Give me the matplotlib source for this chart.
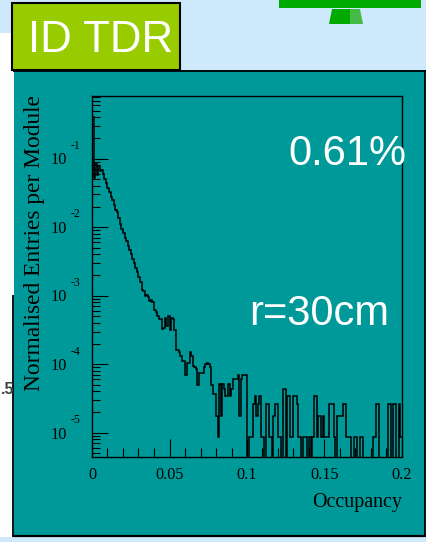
import numpy as np
import matplotlib
matplotlib.use("Agg")
import matplotlib.pyplot as plt
from matplotlib.patches import Rectangle, Polygon
from matplotlib.ticker import FixedLocator, LogLocator, NullFormatter, FixedFormatter, MultipleLocator
import matplotlib.transforms as mtransforms

W, H, DPI = 427, 542, 100

# ---------------- data ----------------
x_range = (0.0, 0.2)
n_bins = 200
# normalised entries per bin, bins 0-79 (occupancy 0 - 0.08)
head_values = [
    0.41, 0.052, 0.085, 0.058, 0.078, 0.066, 0.068, 0.060, 0.050, 0.044,
    0.037, 0.033, 0.028, 0.025, 0.021, 0.018, 0.0165, 0.0135, 0.0110, 0.0095,
    0.0082, 0.0070, 0.0062, 0.0053, 0.0047, 0.0040, 0.0034, 0.0030, 0.0025, 0.0022,
    0.0019, 0.0016, 0.00121, 0.00118, 0.00100, 0.00102, 0.00097, 0.00085, 0.00086, 0.00080,
    0.00062, 0.00058, 0.00050, 0.00045, 0.00046, 0.00033, 0.00034, 0.00048, 0.00036, 0.00050,
    0.00032, 0.00047, 0.00045, 0.00032, 0.00016, 0.00016, 0.00015, 0.00013, 0.00011, 0.00011,
    0.000070, 0.000105, 0.000105, 0.00015, 0.00013, 0.000095, 0.000090, 0.000085, 0.000050, 0.000075,
    0.000075, 0.000075, 0.000090, 0.00010, 0.000105, 0.00010, 0.000090, 0.000050, 0.000037, 0.000037,
]
# raw entries per bin, bins 80-199 (occupancy 0.08 - 0.2)
tail_entries = [
    2, 1, 6, 2, 6, 5, 4, 4, 6, 4,
    5, 7, 7, 7, 8, 2, 7, 8, 8, 8,
    0, 1, 1, 1, 3, 4, 2, 3, 4, 1,
    1, 0, 3, 3, 1, 1, 0, 2, 3, 3,
    1, 1, 0, 5, 5, 0, 4, 4, 1, 1,
    4, 4, 3, 1, 1, 0, 1, 1, 1, 0,
    1, 0, 1, 4, 4, 1, 2, 2, 1, 2,
    1, 1, 1, 3, 3, 3, 1, 0, 2, 2,
    2, 2, 3, 3, 1, 1, 1, 0, 0, 1,
    1, 0, 0, 1, 1, 0, 0, 0, 0, 0,
    0, 1, 1, 3, 3, 0, 0, 0, 0, 0,
    0, 3, 3, 0, 3, 3, 0, 0, 3, 1,
]
entry_weight = 8.65e-6  # normalisation of one entry

x_ticks = [0.0, 0.05, 0.1, 0.15, 0.2]
x_tick_labels = ["0", "0.05", "0.1", "0.15", "0.2"]
y_decades = [-1, -2, -3, -4, -5]
y_lim = (4.42e-6, 0.822)

title_text = "ID TDR"
occ_text = "0.61%"
radius_text = "r=30cm"
y_label = "Normalised Entries per Module"
x_label = "Occupancy"
edge_text = ".5"

# ---------------- colours ----------------
c_sky = "#cde9fb"
c_teal = "#009999"
c_lime = "#99cc00"
c_green = "#00aa00"

SANS = "Liberation Sans"
SERIF = "Liberation Serif"

def fx(px):
    return px / W

def fy(py):
    return 1 - py / H

fig = plt.figure(figsize=(W / DPI, H / DPI), dpi=DPI, facecolor=c_sky)

# background slide elements
bg = fig.add_axes([0, 0, 1, 1], zorder=-1)
bg.set_xlim(0, W)
bg.set_ylim(H, 0)
bg.axis("off")
bg.add_patch(Rectangle((0, 33), 14, 504, fc="white", ec="none"))
bg.add_patch(Rectangle((14, 70), 411, 466, fc=c_teal, ec="none"))
bg.plot([13, 426], [70.5, 70.5], color="black", lw=1.3, solid_capstyle="butt")
bg.plot([425.5, 425.5], [70, 537], color="black", lw=1.3, solid_capstyle="butt")
bg.plot([13, 426], [536, 536], color="black", lw=1.6, solid_capstyle="butt")
bg.plot([13.5, 13.5], [295, 537], color="black", lw=1.3, solid_capstyle="butt")
bg.add_patch(Rectangle((12.5, 2.5), 168, 67.5, fc=c_lime, ec="black", lw=1.5))
bg.add_patch(Rectangle((279, 0), 142, 8, fc=c_green, ec="none"))
bg.add_patch(Polygon([(329, 24), (332, 9), (350, 9), (350, 24)], fc=c_green, ec="none"))
bg.add_patch(Polygon([(350, 24), (350, 9), (360, 9), (363, 24)], fc="#44bb44", ec="none"))
bg.text(28, 52.3, title_text, color="white", fontsize=31.5, family=SANS,
        ha="left", va="baseline")
bg.text(0.5, 389, edge_text, color="#444444", fontsize=11.5, family=SANS,
        fontweight="bold", ha="left", va="center")

# main histogram axes
ax = fig.add_axes([fx(92), fy(457), (402 - 92) / W, (457 - 96) / H])
ax.patch.set_visible(False)

edges = np.linspace(x_range[0], x_range[1], n_bins + 1)
values = np.concatenate([np.array(head_values), np.array(tail_entries) * entry_weight])
draw_values = np.where(values > 0, values, 1e-9)
ax.stairs(draw_values, edges, baseline=None, color="black", lw=1.1)

ax.set_yscale("log")
ax.set_xlim(*x_range)
ax.set_ylim(*y_lim)

for s in ax.spines.values():
    s.set_linewidth(1.0)
    s.set_color("black")

ax.xaxis.set_major_locator(FixedLocator(x_ticks))
ax.xaxis.set_major_formatter(FixedFormatter(x_tick_labels))
ax.xaxis.set_minor_locator(MultipleLocator(0.01))
ax.yaxis.set_major_locator(FixedLocator([10.0 ** d for d in y_decades]))
ax.yaxis.set_minor_locator(LogLocator(base=10, subs=np.arange(2, 10), numticks=20))
ax.yaxis.set_minor_formatter(NullFormatter())
ax.tick_params(axis="x", which="major", direction="in", length=13, width=0.8,
               pad=7.5, labelsize=11.7, top=False)
ax.tick_params(axis="x", which="minor", direction="in", length=6.5, width=0.8, top=False)
ax.tick_params(axis="y", which="major", direction="in", length=11.5, width=0.8,
               labelleft=False, right=False)
ax.tick_params(axis="y", which="minor", direction="in", length=5.8, width=0.8, right=False)
for lab in ax.get_xticklabels():
    lab.set_family(SERIF)

# ROOT-style y tick labels: "10" with a detached exponent
blend = mtransforms.blended_transform_factory(fig.transFigure, ax.transData)
for d in y_decades:
    t_base = mtransforms.offset_copy(blend, fig=fig, x=0, y=-1.8 * 72 / DPI, units="points")
    t_exp = mtransforms.offset_copy(blend, fig=fig, x=0, y=12.7 * 72 / DPI, units="points")
    fig.text(fx(66.5), 10.0 ** d, "10", transform=t_base, family=SERIF, fontsize=11.7,
             ha="right", va="center")
    fig.text(fx(70.5), 10.0 ** d, str(d), transform=t_exp, family=SERIF, fontsize=8.5,
             ha="left", va="center")

fig.text(fx(35), fy(243.5), y_label, rotation=90, family=SERIF, fontsize=16.8,
         ha="center", va="center")
fig.text(fx(402), fy(507), x_label, family=SERIF, fontsize=14.4, ha="right", va="baseline")

fig.text(fx(288), fy(165), occ_text, color="white", family=SANS, fontsize=30,
         ha="left", va="baseline", zorder=5)
fig.text(fx(249), fy(325), radius_text, color="white", family=SANS, fontsize=30,
         ha="left", va="baseline", zorder=5)

fig.savefig("out.png", dpi=DPI, facecolor=c_sky)
